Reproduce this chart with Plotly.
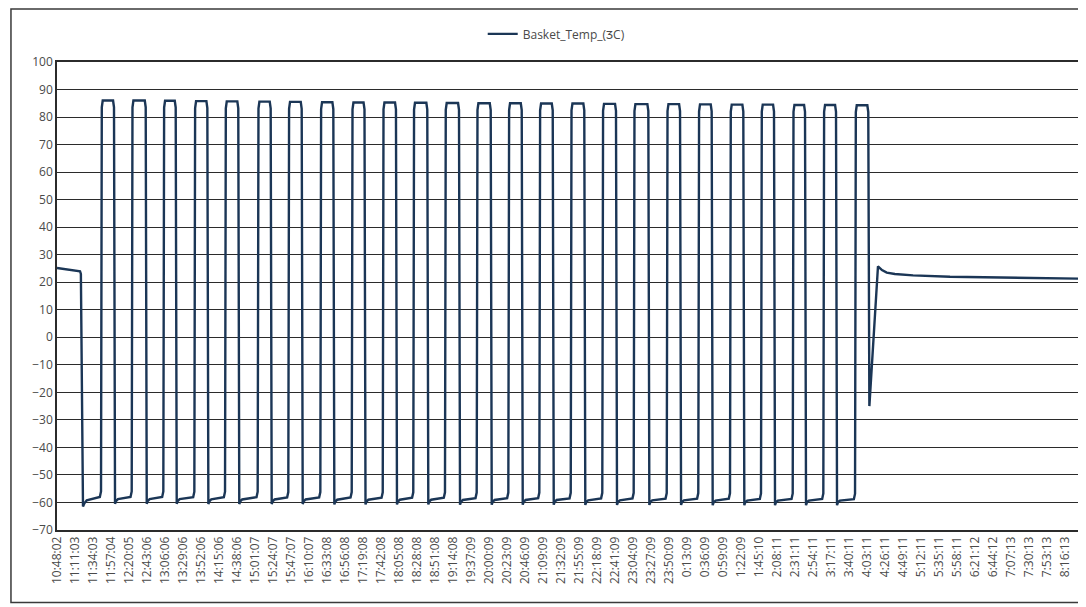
import plotly.graph_objects as go

# ---- tick labels (category labels every 23 minutes) ----
tick_labels = ["10:48:02", "11:11:03", "11:34:03", "11:57:04", "12:20:05", "12:43:06", "13:06:06",
               "13:29:06", "13:52:06", "14:15:06", "14:38:06", "15:01:07", "15:24:07", "15:47:07",
               "16:10:07", "16:33:08", "16:56:08", "17:19:08", "17:42:08", "18:05:08", "18:28:08",
               "18:51:08", "19:14:08", "19:37:09", "20:00:09", "20:23:09", "20:46:09", "21:09:09",
               "21:32:09", "21:55:09", "22:18:09", "22:41:09", "23:04:09", "23:27:09", "23:50:09",
               "0:13:09", "0:36:09", "0:59:09", "1:22:09", "1:45:10", "2:08:11", "2:31:11",
               "2:54:11", "3:17:11", "3:40:11", "4:03:11", "4:26:11", "4:49:11", "5:12:11",
               "5:35:11", "5:58:11", "6:21:12", "6:44:12", "7:07:13", "7:30:13", "7:53:13", "8:16:13"]
tick_minutes = [0, 23, 46, 69, 92, 115, 138, 161, 184, 207, 230, 253, 276, 299, 322, 345, 368,
                391, 414, 437, 460, 483, 506, 529, 552, 575, 598, 621, 644, 667, 690, 713, 736,
                759, 782, 805, 828, 851, 874, 897, 920, 943, 966, 989, 1012, 1035, 1058, 1081,
                1104, 1127, 1150, 1173, 1196, 1219, 1242, 1265, 1288]

# ---- series: Basket_Temp (minutes since 10:48:02) ----
start_t = [0, 15, 29.4]           # initial ambient segment
start_v = [25.2, 24.6, 24.0]

rise_t = [56.2, 95.4, 135.8, 175.4, 214.6, 256.3, 295.4, 336.3, 376.4, 416.0, 455.0, 495.5, 536.0,
          576.4, 616.0, 656.1, 696.4, 736.5, 778.7, 819.0, 859.5, 899.1, 939.6, 978.7, 1019.2]
fall_t = [72.8, 113.3, 151.6, 192.0, 231.5, 272.9, 312.5, 352.9, 392.7, 432.9, 472.9, 513.4, 553.9,
          593.5, 633.1, 673.4, 713.9, 755.2, 795.7, 836.1, 876.5, 915.7, 955.3, 994.9, 1036.1]
peak_v = [86.0, 86.0, 85.9, 85.8, 85.7, 85.6, 85.5, 85.4, 85.3, 85.3, 85.2, 85.1, 85.0,
          85.0, 84.9, 84.9, 84.8, 84.7, 84.7, 84.6, 84.5, 84.5, 84.4, 84.4, 84.3]
trough_v = [-61.5, -60.5, -60.5, -60.5, -60.6, -60.6, -60.6, -60.6, -60.7, -60.7, -60.7, -60.7, -60.8,
            -60.8, -60.8, -60.8, -60.9, -60.9, -60.9, -60.9, -61.0, -61.0, -61.0, -61.0, -61.0]
lowend_v = [-58.0, -58.0, -58.0, -58.1, -58.1, -58.1, -58.2, -58.2, -58.2, -58.3, -58.3, -58.3, -58.4,
            -58.4, -58.4, -58.5, -58.5, -58.5, -58.6, -58.6, -58.6, -58.7, -58.7, -58.7, -58.8]

end_t = [1037.5, 1048.5, 1053.6, 1059.7, 1070.0, 1093.3, 1140.5, 1178.8, 1240.0, 1306.5]
end_v = [-25.0, 25.8, 24.4, 23.5, 23.0, 22.5, 22.0, 21.8, 21.5, 21.3]

# build the polyline from the cycle arrays
xs = list(start_t)
ys = list(start_v)
# initial drop into first cold phase
xs += [30.5, 33.2, 35.0, 38.0, rise_t[0] - 1.5]
ys += [23.0, trough_v[0], trough_v[0] + 1.2, trough_v[0] + 2.3, lowend_v[0]]
for i in range(len(rise_t)):
    r, f, p = rise_t[i], fall_t[i], peak_v[i]
    xs += [r, r + 1.0, r + 2.2, f - 1.2, f]
    ys += [lowend_v[i] + 2.0, p - 2.5, p, p, p - 2.5]
    if i + 1 < len(rise_t):
        tr = trough_v[i + 1]
        xs += [f + 1.3, f + 2.5, f + 5.0, rise_t[i + 1] - 1.5]
        ys += [tr, tr + 1.0, tr + 1.7, lowend_v[i + 1]]
xs += end_t
ys += end_v

fig = go.Figure()
fig.add_trace(go.Scatter(
    x=xs, y=ys, mode="lines", name="Basket_Temp_(ƷC)",
    line=dict(color="#1b3656", width=2.4),
))

grid_col = "#2b2b2b"
fig.update_layout(
    width=1078, height=599,
    margin=dict(l=49, r=6, t=54, b=77, autoexpand=False),
    paper_bgcolor="white", plot_bgcolor="white",
    font=dict(family="'Open Sans', Lato, sans-serif", size=12, color="#4a4a4a"),
    showlegend=True,
    legend=dict(orientation="h", x=0.488, xanchor="center", y=1.06, yanchor="middle",
                font=dict(size=12, color="#4a4a4a"), bgcolor="rgba(0,0,0,0)"),
    xaxis=dict(range=[0, 1306.5], tickmode="array", tickvals=tick_minutes, ticktext=tick_labels,
               tickangle=-90, showgrid=False, zeroline=False, showline=True, linecolor=grid_col,
               linewidth=1.5, mirror=True, ticks="", automargin=False,
               tickfont=dict(size=12, color="#4a4a4a")),
    yaxis=dict(range=[-70, 100], dtick=10, tick0=0, showgrid=True, gridcolor=grid_col, gridwidth=1.4,
               zeroline=False, showline=True, linecolor=grid_col, linewidth=1.5, mirror=True,
               ticks="", automargin=False, tickfont=dict(size=12, color="#4a4a4a")),
    shapes=[dict(type="rect", xref="paper", yref="paper", x0=-0.045, x1=1.004, y0=-0.155, y1=1.113,
                 line=dict(color="#3a3a3a", width=1.5), fillcolor="rgba(0,0,0,0)", layer="below")],
)

fig.write_html("out.html")
